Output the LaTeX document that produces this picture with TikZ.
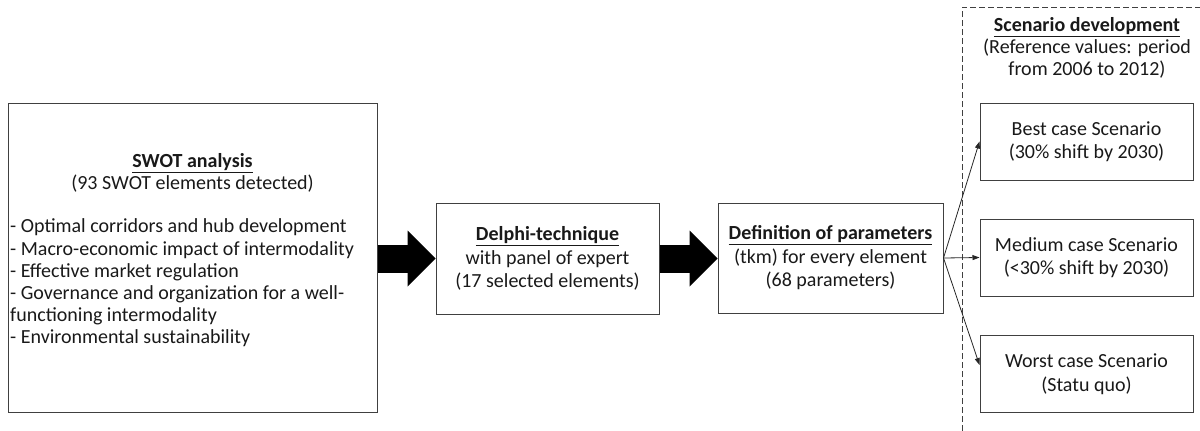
\documentclass[tikz,border=0pt]{standalone}
\usepackage{fontspec}
\setmainfont{Carlito}
\usetikzlibrary{arrows.meta}
\tikzset{
  box/.style={draw=black!75, line width=1pt, inner sep=0pt, align=center, text=black!90,
    font=\fontsize{20}{23.5}\selectfont},
  txt/.style={inner sep=0pt, text=black!90, font=\fontsize{20}{22.2}\selectfont},
  bigarrow/.style={line width=28pt, draw=black, -{Triangle[length=28pt,width=56pt,line width=0pt]}},
  thinarrow/.style={line width=0.8pt, draw=black!85, -{Triangle[length=7pt,width=5pt]}},
}
\newcommand{\hd}[1]{\underline{\textbf{#1}}}
\begin{document}
\begin{tikzpicture}[x=1pt,y=-1pt]
\useasboundingbox (0,0) rectangle (1200,431);
% dashed frame
\draw[dashed, black!75, line width=1pt, dash pattern=on 6pt off 3pt] (962,431) -- (962,7) -- (1200,7);
% boxes
\node[box, minimum width=369pt, minimum height=309pt] (swot) at (192.5,257.5) {};
\node[txt, align=center] (swothd) at (192.5,173) {\hd{SWOT analysis}\\(93 SWOT elements detected)};
\node[txt, align=left, anchor=west] (swotlist) at (10,283) {- Optimal corridors and hub development\\- Macro-economic impact of intermodality\\- Effective market regulation\\- Governance and organization for a well-\\functioning intermodality\\- Environmental sustainability};
\node[box, minimum width=223pt, minimum height=111pt] (delphi) at (547.5,258.5) {\hd{Delphi-technique}\\with panel of expert\\(17 selected elements)};
\node[box, minimum width=225pt, minimum height=110pt] (def) at (830.5,258) {\hd{Definition of parameters}\\(tkm) for every element\\(68 parameters)};
\node[txt, align=center, font=\fontsize{20}{21.8}\selectfont] (scen) at (1087,48) {\hd{Scenario development}\\(Reference values: period\\from 2006 to 2012)};
\node[box, minimum width=213pt, minimum height=77pt] (best) at (1086.5,141.5) {Best case Scenario\\(30\% shift by 2030)};
\node[box, minimum width=213pt, minimum height=77pt] (medium) at (1086.5,257.5) {Medium case Scenario\\(<30\% shift by 2030)};
\node[box, minimum width=213pt, minimum height=77pt] (worst) at (1086.5,374) {Worst case Scenario\\(Statu quo)};
% arrows
\draw[bigarrow] (swot.east |- delphi.west) -- (delphi.west);
\draw[bigarrow] (delphi.east) -- (def.west |- delphi.east);
\draw[thinarrow] (def.east) -- (best.west);
\draw[thinarrow] (def.east) -- (medium.west);
\draw[thinarrow] (def.east) -- ([yshift=9pt]worst.west);
\end{tikzpicture}
\end{document}
